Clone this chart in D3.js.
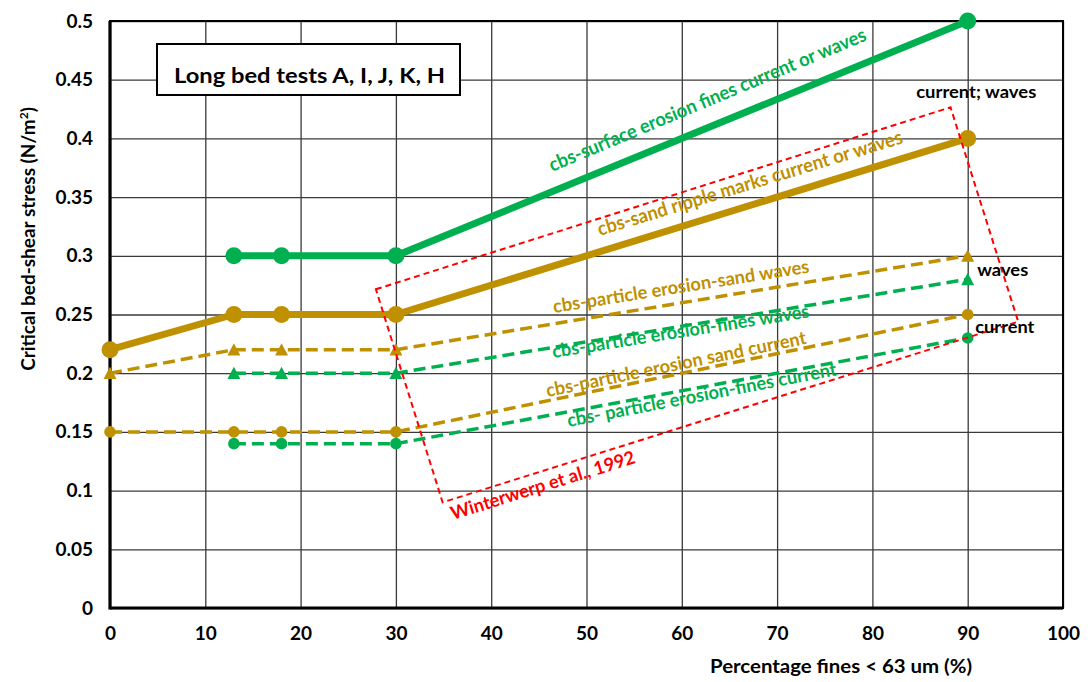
<!DOCTYPE html>
<html>
<head>
<meta charset="utf-8">
<script src="https://cdn.jsdelivr.net/npm/d3@7"></script>
<style>
  html, body { margin: 0; padding: 0; background: #fff; }
  svg { display: block; font-family: Lato, "Open Sans", sans-serif; font-weight: bold; }
</style>
</head>
<body>
<svg id="chart" width="1092" height="682"></svg>
<script>
// ---------------- data ----------------
const xTicks = [0, 10, 20, 30, 40, 50, 60, 70, 80, 90, 100];
const yTicks = [0, 0.05, 0.1, 0.15, 0.2, 0.25, 0.3, 0.35, 0.4, 0.45, 0.5];
const yTickLabels = ["0", "0.05", "0.1", "0.15", "0.2", "0.25", "0.3", "0.35", "0.4", "0.45", "0.5"];

const finesFull = [0, 13, 18, 30, 90];
const finesPart = [13, 18, 30, 90];

const surfaceFines   = [0.30, 0.30, 0.30, 0.50];        // x = finesPart
const sandRipple     = [0.22, 0.25, 0.25, 0.25, 0.40];  // x = finesFull
const sandWaves      = [0.20, 0.22, 0.22, 0.22, 0.30];  // x = finesFull
const finesWaves     = [0.20, 0.20, 0.20, 0.28];        // x = finesPart
const sandCurrent    = [0.15, 0.15, 0.15, 0.15, 0.25];  // x = finesFull
const finesCurrent   = [0.14, 0.14, 0.14, 0.23];        // x = finesPart

// Winterwerp et al. 1992 region (corners, data units)
const winterwerpX = [27.9, 88.2, 95.3, 34.9];
const winterwerpY = [0.2715, 0.4265, 0.2439, 0.090];

// ---------------- layout ----------------
const GREEN = "#00B050", GOLD = "#BF9000", RED = "#FF0000";
const M = { left: 110, right: 1063, top: 21, bottom: 608 };
const svg = d3.select("#chart");

const x = d3.scaleLinear().domain([0, 100]).range([M.left, M.right]);
const y = d3.scaleLinear().domain([0, 0.5]).range([M.bottom, M.top]);

// grid
svg.append("g")
  .attr("transform", `translate(0,${M.bottom})`)
  .call(d3.axisBottom(x).tickValues(xTicks).tickSize(-(M.bottom - M.top)).tickFormat(""))
  .call(g => g.select(".domain").remove())
  .call(g => g.selectAll("line").attr("stroke", "#3a3a3a").attr("stroke-width", 1.3));
svg.append("g")
  .attr("transform", `translate(${M.left},0)`)
  .call(d3.axisLeft(y).tickValues(yTicks).tickSize(-(M.right - M.left)).tickFormat(""))
  .call(g => g.select(".domain").remove())
  .call(g => g.selectAll("line").attr("stroke", "#3a3a3a").attr("stroke-width", 1.3));

// plot frame
svg.append("rect").attr("x", M.left).attr("y", M.top)
  .attr("width", M.right - M.left).attr("height", M.bottom - M.top)
  .attr("fill", "none").attr("stroke", "#000").attr("stroke-width", 2);

// tick labels
svg.append("g")
  .attr("transform", `translate(${M.left - 6},0)`)
  .call(d3.axisLeft(y).tickValues(yTicks).tickSize(0).tickPadding(11)
        .tickFormat((d, i) => yTickLabels[i]))
  .call(g => g.select(".domain").remove())
  .call(g => g.selectAll("text").attr("font-family", "Lato, sans-serif")
        .attr("font-weight", "bold").attr("font-size", 19).attr("fill", "#000"));
svg.append("g")
  .attr("transform", `translate(0,${M.bottom + 14})`)
  .call(d3.axisBottom(x).tickValues(xTicks).tickSize(0).tickPadding(4).tickFormat(d3.format("d")))
  .call(g => g.select(".domain").remove())
  .call(g => g.selectAll("text").attr("font-family", "Lato, sans-serif")
        .attr("font-weight", "bold").attr("font-size", 19).attr("fill", "#000"));

// thick left & bottom axis lines
svg.append("line").attr("x1", M.left).attr("x2", M.left).attr("y1", M.top).attr("y2", M.bottom + 1.5)
  .attr("stroke", "#000").attr("stroke-width", 3.2);
svg.append("line").attr("x1", M.left).attr("x2", M.right).attr("y1", M.bottom).attr("y2", M.bottom)
  .attr("stroke", "#000").attr("stroke-width", 3.2);

// axis titles
svg.append("text").attr("x", 841).attr("y", 673).attr("text-anchor", "middle")
  .attr("font-size", 19).attr("textLength", 262).attr("lengthAdjust", "spacingAndGlyphs")
  .text("Percentage fines < 63 um (%)");
const yt = svg.append("text").attr("transform", "translate(35,239) rotate(-90)")
  .attr("text-anchor", "middle").attr("font-size", 19);
yt.append("tspan").text("Critical bed-shear stress (N/m");
yt.append("tspan").attr("font-size", 12).attr("dy", -7).text("2");
yt.append("tspan").attr("dy", 7).text(")");

// ---------------- series ----------------
const series = [
  { xs: finesPart, ys: surfaceFines, color: GREEN, w: 7,   dash: null,   shape: "circle", r: 8.5 },
  { xs: finesFull, ys: sandRipple,   color: GOLD,  w: 7,   dash: null,   shape: "circle", r: 8.5 },
  { xs: finesFull, ys: sandWaves,    color: GOLD,  w: 3.5, dash: "12,6", shape: "tri",    r: 6.5 },
  { xs: finesPart, ys: finesWaves,   color: GREEN, w: 3.5, dash: "12,6", shape: "tri",    r: 6.5 },
  { xs: finesFull, ys: sandCurrent,  color: GOLD,  w: 3.5, dash: "12,6", shape: "circle", r: 5.8 },
  { xs: finesPart, ys: finesCurrent, color: GREEN, w: 3.5, dash: "12,6", shape: "circle", r: 5.8 },
];
const line = d3.line().x(d => x(d[0])).y(d => y(d[1]));

series.slice().reverse().forEach(s => {
  const pts = s.xs.map((v, i) => [v, s.ys[i]]);
  svg.append("path").datum(pts).attr("d", line)
    .attr("fill", "none").attr("stroke", s.color).attr("stroke-width", s.w)
    .attr("stroke-dasharray", s.dash).attr("stroke-linejoin", "round");
  const g = svg.append("g");
  if (s.shape === "circle") {
    g.selectAll("circle").data(pts).join("circle")
      .attr("cx", d => x(d[0])).attr("cy", d => y(d[1])).attr("r", s.r).attr("fill", s.color);
  } else {
    const a = s.r * 2; // side length
    g.selectAll("path").data(pts).join("path")
      .attr("d", d => {
        const cx = x(d[0]), cy = y(d[1]);
        return `M${cx},${cy - a * 0.5}L${cx + a / 2},${cy + a * 0.45}L${cx - a / 2},${cy + a * 0.45}Z`;
      })
      .attr("fill", s.color);
  }
});

// Winterwerp region
const boxPts = winterwerpX.map((v, i) => [x(v), y(winterwerpY[i])]);
svg.append("path").attr("d", "M" + boxPts.map(p => p.join(",")).join("L") + "Z")
  .attr("fill", "none").attr("stroke", RED).attr("stroke-width", 2).attr("stroke-dasharray", "6,4");

// ---------------- annotations ----------------
function label(px, py, ang, len, txt, color, size) {
  svg.append("text")
    .attr("transform", `translate(${px},${py}) rotate(${ang})`)
    .attr("font-size", size).attr("fill", color)
    .attr("textLength", len).attr("lengthAdjust", "spacingAndGlyphs")
    .text(txt);
}
label(x(46.4), y(0.3714), -22.7, 342, "cbs-surface erosion fines current or waves", GREEN, 19.5);
label(x(51.4), y(0.3169), -17.0, 318, "cbs-sand ripple marks current or waves", GOLD, 19.5);
label(x(46.6), y(0.2513), -9.0, 259, "cbs-particle erosion-sand waves", GOLD, 18.5);
label(x(46.5), y(0.2130), -9.0, 260, "cbs-particle erosion-fines waves", GREEN, 18.5);
label(x(45.9), y(0.1797), -11.6, 265, "cbs-particle erosion sand current", GOLD, 18.5);
label(x(48.1), y(0.1542), -10.9, 274, "cbs- particle erosion-fines current", GREEN, 18.5);
label(x(35.99), y(0.0750), -17.3, 192, "Winterwerp et al., 1992", RED, 18.5);

label(x(84.6), y(0.4344), 0, 120, "current; waves", "#000", 17);
label(x(91.0), y(0.2828), 0, 51, "waves", "#000", 17);
label(x(90.8), y(0.2343), 0, 59, "current", "#000", 17);

// title box
svg.append("rect").attr("x", 157).attr("y", 44).attr("width", 303).attr("height", 51)
  .attr("fill", "#fff").attr("stroke", "#000").attr("stroke-width", 2);
svg.append("text").attr("x", 174).attr("y", 83).attr("font-size", 20.5)
  .attr("textLength", 271).attr("lengthAdjust", "spacingAndGlyphs")
  .text("Long bed tests A, I, J, K, H");
</script>
</body>
</html>
